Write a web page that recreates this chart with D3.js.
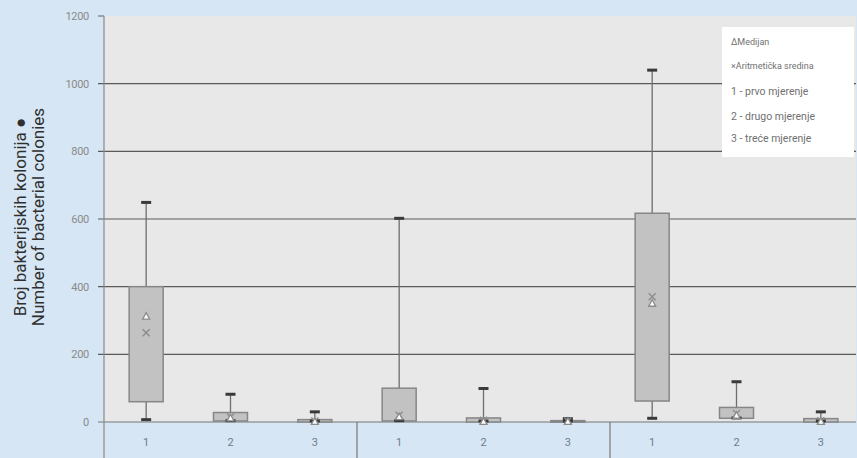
<!DOCTYPE html>
<html><head><meta charset="utf-8">
<script src="https://cdn.jsdelivr.net/npm/d3@7"></script>
<style>html,body{margin:0;padding:0;background:#d6e6f4;}svg{display:block;}</style>
</head><body>
<script>
const groups = ["G1","G2","G3"];
const measures = ["1","2","3"];
// order: G1-1, G1-2, G1-3, G2-1, ..., G3-3
const whiskerMin = [4, 1, 0, 1, 0, 0, 8, 9, 0];
const q1        = [60, 3, 0, 3, 0, 0, 62, 11, 0];
const median    = [313, 12, 2, 16, 2, 2, 351, 20, 2];
const mean      = [264, 15, 3, 20, 5, 3, 370, 25, 4];
const q3        = [400, 28, 7, 100, 12, 4, 617, 43, 10];
const whiskerMax= [649, 82, 30, 602, 99, 10, 1040, 119, 30];
const yTicks = [0, 200, 400, 600, 800, 1000, 1200];
const legendLines = ["\u0394Medijan", "\u00D7Aritmeti\u010Dka sredina", "1 - prvo mjerenje", "2 - drugo mjerenje", "3 - tre\u0107e mjerenje"];
const yTitle = ["Broj bakterijskih kolonija \u25CF", "Number of bacterial colonies"];

(function(){
const W = 857, H = 458;
const pL = 104, pT = 16, pB = 422, pR = 856;

const data = [];
groups.forEach((g, gi) => measures.forEach((m, mi) => {
  const i = gi * measures.length + mi;
  data.push({g, m, min: whiskerMin[i], q1: q1[i], med: median[i], mean: mean[i], q3: q3[i], max: whiskerMax[i]});
}));

const svg = d3.select("body").append("svg").attr("width", W).attr("height", H);
svg.append("rect").attr("width", W).attr("height", H).attr("fill", "#d6e6f4");
svg.append("rect").attr("x", pL).attr("y", pT).attr("width", pR - pL).attr("height", pB - pT).attr("fill", "#e8e8e8");

const y = d3.scaleLinear().domain([0, 1200]).range([pB, pT]);
const x0 = d3.scaleBand().domain(groups).range([pL, pL + 3 * 253]);
const x1 = d3.scaleBand().domain(measures).range([0, x0.bandwidth()]);
const boxW = 34;
const cx = d => x0(d.g) + x1(d.m) + x1.bandwidth() / 2;

svg.append("g").selectAll("line").data(yTicks.filter(t => t > 0 && t < 1200)).join("line")
  .attr("x1", pL - 6).attr("x2", pR).attr("y1", d => y(d)).attr("y2", d => y(d))
  .attr("stroke", "#5a5a5a").attr("stroke-width", 1.2);
svg.append("line").attr("x1", pL - 6).attr("x2", pR).attr("y1", y(0)).attr("y2", y(0)).attr("stroke", "#777").attr("stroke-width", 1.2);
svg.append("line").attr("x1", pL - 6).attr("x2", pL).attr("y1", y(1200)).attr("y2", y(1200)).attr("stroke", "#777").attr("stroke-width", 1.2);

const yAxis = d3.axisLeft(y).tickValues(yTicks).tickFormat(d3.format("d")).tickSize(0).tickPadding(15);
const ya = svg.append("g").attr("transform", `translate(${pL},0)`).call(yAxis);
ya.select(".domain").remove();
ya.selectAll("text").attr("font-family", "Roboto, sans-serif").attr("font-size", 11).attr("fill", "#8a8a8a").attr("letter-spacing", "-0.3");
svg.append("line").attr("x1", pL).attr("x2", pL).attr("y1", pT).attr("y2", H).attr("stroke", "#888").attr("stroke-width", 1.2);

svg.append("g").selectAll("line").data(groups.slice(1)).join("line")
  .attr("x1", d => x0(d)).attr("x2", d => x0(d)).attr("y1", pB).attr("y2", H)
  .attr("stroke", "#777").attr("stroke-width", 1.2);

svg.append("g").selectAll("text").data(data).join("text")
  .attr("x", cx).attr("y", 446).attr("text-anchor", "middle")
  .attr("font-family", "Roboto, sans-serif").attr("font-size", 11).attr("fill", "#6d7d8e")
  .text(d => d.m);

const b = svg.append("g").selectAll("g").data(data).join("g");
b.append("line").attr("x1", cx).attr("x2", cx).attr("y1", d => y(d.max)).attr("y2", d => y(d.min))
  .attr("stroke", "#6e6e6e").attr("stroke-width", 1.3);
b.append("rect").attr("x", d => cx(d) - boxW / 2).attr("width", boxW)
  .attr("y", d => y(d.q3)).attr("height", d => Math.max(1.5, y(d.q1) - y(d.q3)))
  .attr("fill", "#c2c2c2").attr("stroke", "#868686").attr("stroke-width", 1.5);
b.append("line").attr("x1", d => cx(d) - 5).attr("x2", d => cx(d) + 5).attr("y1", d => y(d.max)).attr("y2", d => y(d.max))
  .attr("stroke", "#3a3a3a").attr("stroke-width", 3);
b.append("line").attr("x1", d => cx(d) - 5).attr("x2", d => cx(d) + 5).attr("y1", d => y(d.min) - 1).attr("y2", d => y(d.min) - 1)
  .attr("stroke", "#3a3a3a").attr("stroke-width", 3);
b.append("path").attr("transform", d => `translate(${cx(d)},${y(d.mean)})`)
  .attr("d", "M-3.5,-3.5L3.5,3.5M-3.5,3.5L3.5,-3.5").attr("stroke", "#8c8c8c").attr("stroke-width", 1.4).attr("fill", "none");
b.append("path").attr("transform", d => `translate(${cx(d)},${y(d.med)})`)
  .attr("d", "M0,-3.5L3.5,3L-3.5,3Z").attr("fill", "#fff").attr("stroke", "#8c8c8c").attr("stroke-width", 1.3);

svg.append("rect").attr("x", 722).attr("y", 27).attr("width", 132).attr("height", 130).attr("fill", "#ffffff");
const ly = [45, 69, 95, 120, 142];
const ls = [9, 9, 10.5, 10.5, 10.5];
svg.append("g").selectAll("text").data(legendLines).join("text")
  .attr("x", 731).attr("y", (d, i) => ly[i]).attr("font-family", "Roboto, sans-serif")
  .attr("font-size", (d, i) => ls[i]).attr("fill", "#707070").text(d => d);

const t = svg.append("text").attr("transform", "translate(0,217) rotate(-90)").attr("text-anchor", "middle")
  .attr("font-family", "Roboto, sans-serif").attr("font-size", 17).attr("fill", "#2f2f2f");
t.selectAll("tspan").data(yTitle).join("tspan").attr("x", 0).attr("y", (d, i) => 26 + i * 18).text(d => d);
})();
</script>
</body></html>
